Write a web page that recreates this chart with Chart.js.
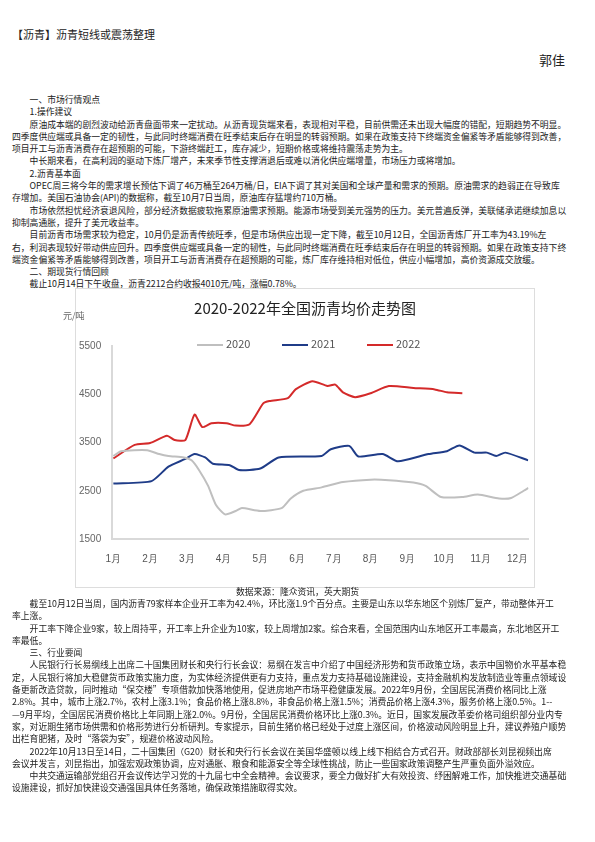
<!DOCTYPE html>
<html><head><meta charset="utf-8">
<script src="https://cdn.jsdelivr.net/npm/chart.js@4"></script>
<style>
body{margin:0;width:595px;height:842px;position:relative;background:#fff;font-family:"Noto Sans CJK SC","Noto Sans",sans-serif;color:#222;overflow:hidden;}
.t{position:absolute;white-space:nowrap;font-size:8.8px;line-height:12.3px;}
#box{position:absolute;left:75px;top:288px;width:458px;height:298px;border:1px solid #ddd;background:#fff;}
.lg{position:absolute;top:335px;font-size:11px;color:#555;}
.lg i{display:inline-block;width:26px;height:2px;vertical-align:middle;margin-right:3px;}
</style></head><body>
<div class="t" style="left:12px;top:28px;font-size:11px">【沥青】沥青短线或震荡整理</div>
<div class="t" style="left:539px;top:54px;font-size:13px">郭佳</div>
<div class="t" style="left:12px;top:94px">
<div>&emsp;&emsp;一、市场行情观点</div>
<div>&emsp;&emsp;1.操作建议</div>
<div>&emsp;&emsp;原油成本端的剧烈波动给沥青盘面带来一定扰动。从沥青现货端来看，表现相对平稳，目前供需还未出现大幅度的错配，短期趋势不明显。</div>
<div>四季度供应端或具备一定的韧性，与此同时终端消费在旺季结束后存在明显的转弱预期。如果在政策支持下终端资金偏紧等矛盾能够得到改善，</div>
<div>项目开工与沥青消费存在超预期的可能，下游终端赶工，库存减少，短期价格或将维持震荡走势为主。</div>
<div>&emsp;&emsp;中长期来看，在高利润的驱动下炼厂增产，未来季节性支撑消退后或难以消化供应端增量，市场压力或将增加。</div>
<div>&emsp;&emsp;2.沥青基本面</div>
<div>&emsp;&emsp;OPEC周三将今年的需求增长预估下调了46万桶至264万桶/日，EIA下调了其对美国和全球产量和需求的预期。原油需求的趋弱正在导致库</div>
<div>存增加。美国石油协会(API)的数据称，截至10月7日当周，原油库存猛增约710万桶。</div>
<div>&emsp;&emsp;市场依然担忧经济衰退风险，部分经济数据疲软拖累原油需求预期。能源市场受到美元强势的压力。美元普遍反弹，美联储承诺继续加息以</div>
<div>抑制高通胀，提升了美元收益率。</div>
<div>&emsp;&emsp;目前沥青市场需求较为稳定，10月仍是沥青传统旺季，但是市场供应出现一定下降，截至10月12日，全国沥青炼厂开工率为43.19%左</div>
<div>右，利润表现较好带动供应回升。四季度供应端或具备一定的韧性，与此同时终端消费在旺季结束后存在明显的转弱预期。如果在政策支持下终</div>
<div>端资金偏紧等矛盾能够得到改善，项目开工与沥青消费存在超预期的可能，炼厂库存维持相对低位，供应小幅增加，高价资源成交放缓。</div>
<div>&emsp;&emsp;二、期现货行情回顾</div>
<div>&emsp;&emsp;截止10月14日下午收盘，沥青2212合约收报4010元/吨，涨幅0.78%。</div>
</div>
<div id="box"><canvas id="c" width="458" height="298"></canvas></div>
<div class="t" style="left:63px;top:310px;font-size:9px;color:#666">元/吨</div>
<div class="lg" style="left:197px"><i style="background:#bfbfbf"></i>2020</div>
<div class="lg" style="left:282px"><i style="background:#1f3c88"></i>2021</div>
<div class="lg" style="left:367px"><i style="background:#d42a2a"></i>2022</div>
<div class="t" style="left:0;width:595px;text-align:center;top:586px">数据来源：隆众资讯，英大期货</div>
<div class="t" style="left:12px;top:598px">
<div>&emsp;&emsp;截至10月12日当周，国内沥青79家样本企业开工率为42.4%，环比涨1.9个百分点。主要是山东以华东地区个别炼厂复产，带动整体开工</div>
<div>率上涨。</div>
<div>&emsp;&emsp;开工率下降企业9家，较上周持平，开工率上升企业为10家，较上周增加2家。综合来看，全国范围内山东地区开工率最高，东北地区开工</div>
<div>率最低。</div>
<div>&emsp;&emsp;三、行业要闻</div>
<div>&emsp;&emsp;人民银行行长易纲线上出席二十国集团财长和央行行长会议：易纲在发言中介绍了中国经济形势和货币政策立场，表示中国物价水平基本稳</div>
<div>定，人民银行将加大稳健货币政策实施力度，为实体经济提供更有力支持，重点发力支持基础设施建设，支持金融机构发放制造业等重点领域设</div>
<div>备更新改造贷款，同时推动“保交楼”专项借款加快落地使用，促进房地产市场平稳健康发展。2022年9月份，全国居民消费价格同比上涨</div>
<div>2.8%。其中，城市上涨2.7%，农村上涨3.1%；食品价格上涨8.8%，非食品价格上涨1.5%；消费品价格上涨4.3%，服务价格上涨0.5%。1--</div>
<div>—9月平均，全国居民消费价格比上年同期上涨2.0%。9月份，全国居民消费价格环比上涨0.3%。近日，国家发展改革委价格司组织部分业内专</div>
<div>家，对近期生猪市场供需和价格形势进行分析研判。专家提示，目前生猪价格已经处于过度上涨区间，价格波动风险明显上升，建议养殖户顺势</div>
<div>出栏育肥猪，及时“落袋为安”，规避价格波动风险。</div>
<div>&emsp;&emsp;2022年10月13日至14日，二十国集团（G20）财长和央行行长会议在美国华盛顿以线上线下相结合方式召开。财政部部长刘昆视频出席</div>
<div>会议并发言，刘昆指出，加强宏观政策协调，应对通胀、粮食和能源安全等全球性挑战，防止一些国家政策调整产生严重负面外溢效应。</div>
<div>&emsp;&emsp;中共交通运输部党组召开会议传达学习党的十九届七中全会精神。会议要求，要全力做好扩大有效投资、纾困解难工作，加快推进交通基础</div>
<div>设施建设，抓好加快建设交通强国具体任务落地，确保政策措施取得实效。</div>
</div>
<script>
// month positions (1 = 1月) and prices 元/吨
const m2020 = [1.0,1.21,1.92,2.25,2.5,2.92,3.13,3.33,3.58,3.79,4.04,4.33,4.5,5.0,5.58,5.83,6.17,6.67,7.25,8.0,8.5,9.17,9.5,9.92,10.5,10.92,11.5,11.83,12.17,12.3];
const p2020 = [3220,3320,3340,3260,3220,3190,3130,2930,2600,2210,2010,2080,2140,2080,2140,2340,2500,2570,2680,2730,2720,2670,2600,2370,2370,2420,2340,2350,2500,2560];
const m2021 = [1.0,2.04,2.5,2.96,3.21,3.5,3.71,4.17,4.42,5.0,5.5,6.67,6.92,7.42,7.67,8.33,8.75,9.58,10.08,10.42,10.83,11.17,11.42,11.67,12.29];
const p2021 = [2650,2700,3000,3160,3260,3190,3060,3030,2930,2960,3190,3220,3360,3430,3210,3260,3110,3260,3320,3440,3290,3290,3220,3290,3130];
const m2022 = [1.0,1.58,2.0,2.46,2.67,2.96,3.21,3.42,3.67,4.08,4.33,4.71,5.08,5.25,5.75,5.96,6.42,6.83,7.04,7.25,7.58,8.0,8.5,9.17,9.75,10.08,10.5];
const p2022 = [3170,3450,3490,3640,3550,3550,4080,3820,3900,3900,3850,3880,4310,4360,4420,4600,4770,4670,4700,4540,4440,4520,4670,4630,4600,4540,4520];
const colors = ['#bfbfbf','#1f3c88','#d42a2a'];
const yTicks = [1500,2500,3500,4500,5500];
const months = [1,2,3,4,5,6,7,8,9,10,11,12];

const toPts = (ms, ps) => ms.map((m, i) => ({x: m, y: ps[i]}));
new Chart(document.getElementById('c'), {
  type: 'line',
  data: {
    datasets: [
      {label: '2020', data: toPts(m2020, p2020)},
      {label: '2021', data: toPts(m2021, p2021)},
      {label: '2022', data: toPts(m2022, p2022)}
    ].map((d, i) => Object.assign(d, {borderColor: colors[i], backgroundColor: colors[i], borderWidth: 2, pointRadius: 0, tension: 0.2}))
  },
  options: {
    responsive: false,
    animation: false,
    layout: {padding: {left: 0, right: 0, top: 0, bottom: 16}},
    plugins: {
      title: {display: true, text: '2020-2022年全国沥青均价走势图', color: '#222', font: {size: 15, family: 'Noto Sans CJK SC', weight: 'normal'}, padding: {top: 10, bottom: 29}},
      legend: {display: false},
      tooltip: {enabled: false}
    },
    scales: {
      x: {type: 'linear', min: 0.97, max: 12.3,
        afterBuildTicks: a => { a.ticks = months.map(v => ({value: v})); },
        ticks: {color: '#555', font: {size: 10}, padding: 6, callback: v => v + '月'},
        grid: {display: false}, border: {color: '#d9d9d9', width: 2}},
      y: {min: yTicks[0], max: yTicks[yTicks.length - 1],
        afterBuildTicks: a => { a.ticks = yTicks.map(v => ({value: v})); },
        ticks: {color: '#666', font: {size: 10}, callback: v => String(v)},
        grid: {display: false}, border: {color: '#d9d9d9', width: 2}}
    }
  }
});
</script>
</body></html>
